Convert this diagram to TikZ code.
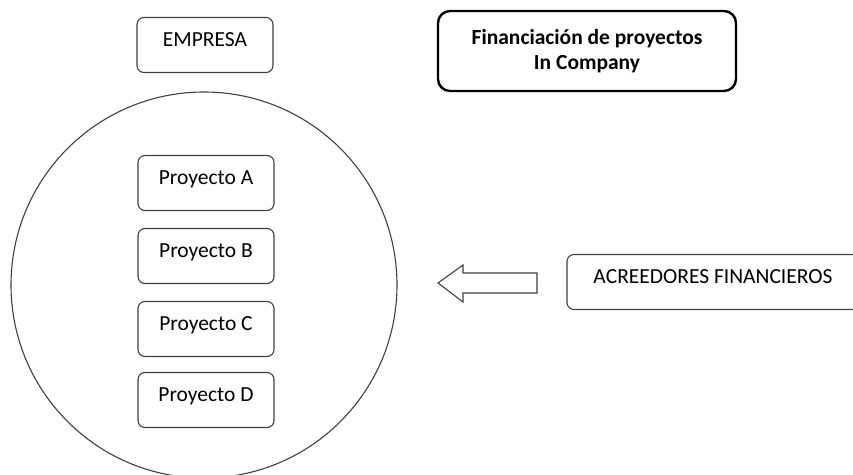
\documentclass[tikz,border=0pt]{standalone}
\usepackage{fontspec}
\setmainfont{Carlito}
\begin{document}
\begin{tikzpicture}[x=1pt,y=-1pt,
    box/.style={draw=black!75,line width=1.1pt,rounded corners=7pt,
      minimum width=136pt,minimum height=55pt,inner sep=0pt,
      text height=0.75em,text depth=0.4em,
      font=\fontsize{21.5}{25}\selectfont},
    titlebox/.style={draw=black,line width=2.4pt,rounded corners=12pt,
      minimum width=298pt,minimum height=80pt,align=center,
      font=\fontsize{21.5}{25}\selectfont\bfseries}]
  \useasboundingbox (0,0) rectangle (853,474);
  \draw[black!75,line width=1.1pt] (204,285) circle [radius=193pt];
  \draw
    (205,45) node[box] (empresa){EMPRESA}
    (587,51) node[titlebox] (titulo){Financiación de proyectos\\In Company}
    (206,183) node[box] (a){Proyecto A}
    (206,256) node[box] (b){Proyecto B}
    (206,329) node[box] (c){Proyecto C}
    (206,400) node[box] (d){Proyecto D}
    (713,282) node[box,minimum width=292pt] (acreedores){ACREEDORES FINANCIEROS};
  \begin{scope}[black!75,line width=1.1pt,line join=miter]
    \draw (438,283) -- (463,265) -- (463,273) -- (537,273) -- (537,293)
      -- (463,293) -- (463,302) -- cycle;
  \end{scope}
\end{tikzpicture}
\end{document}
